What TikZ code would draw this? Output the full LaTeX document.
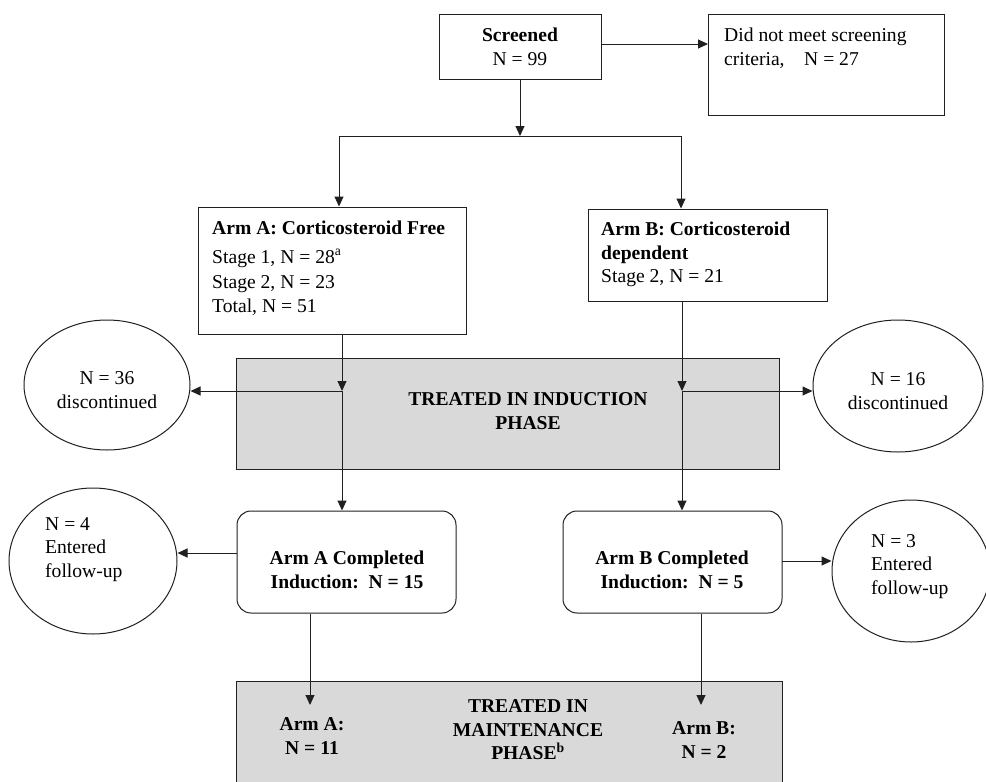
\documentclass[tikz,border=0pt]{standalone}
\usepackage{fontspec}
\setmainfont{Liberation Serif}
\usetikzlibrary{arrows.meta,shapes.geometric}
\definecolor{lc}{HTML}{202020}
\definecolor{gfill}{HTML}{D9D9D9}
\begin{document}
\begin{tikzpicture}[x=1pt,y=-1pt,
  every node/.style={font=\fontsize{19.6}{23.5}\selectfont},
  box/.style={draw=lc,line width=1pt,rectangle,inner sep=0pt},
  rbox/.style={box,rounded corners=14pt},
  gbox/.style={box,fill=gfill},
  oval/.style={draw=lc,line width=1pt,ellipse,inner sep=0pt},
  txt/.style={inner sep=0pt,align=left},
  ctxt/.style={inner sep=0pt,align=center},
  btxt/.style={ctxt,font=\fontsize{19.6}{23.5}\selectfont\bfseries},
  arr/.style={draw=lc,line width=1pt,-{Triangle[length=10pt,width=9pt]}},
  ln/.style={draw=lc,line width=1pt}]
\useasboundingbox (0,0) rectangle (986,782);
\begin{scope}
\clip (0,0) rectangle (986,782);
% boxes
\node[box,minimum width=162pt,minimum height=65pt,align=center] (scr) at (520,47)
  {\textbf{Screened}\\N = 99};
\node[box,minimum width=236pt,minimum height=101pt] (dnm) at (826.5,65) {};
\node[txt,anchor=north west] (dnmt) at (724,28) {Did not meet screening\\criteria,\quad N = 27};
\node[box,minimum width=268pt,minimum height=127pt] (armA) at (332,270.5) {};
\node[txt,anchor=north west] (armAt) at (212,221) {\textbf{Arm A: Corticosteroid Free}\\[5pt]Stage 1, N = 28\textsuperscript{a}\\[2pt]Stage 2, N = 23\\Total, N = 51};
\node[box,minimum width=239pt,minimum height=92pt] (armB) at (707.5,255) {};
\node[txt,anchor=north west] (armBt) at (601,222) {\textbf{Arm B: Corticosteroid}\\\textbf{dependent}\\Stage 2, N = 21};
\node[gbox,minimum width=543pt,minimum height=111pt] (ind) at (507.5,413.5) {};
\node[btxt] (indt) at (528,411) {TREATED IN INDUCTION\\PHASE};
\node[oval,minimum width=166pt,minimum height=130pt] (L1) at (107,385) {};
\node[ctxt] (L1t) at (107,390) {N = 36\\discontinued};
\node[oval,minimum width=170pt,minimum height=132pt] (R1) at (898,386) {};
\node[ctxt] (R1t) at (898,391) {N = 16\\discontinued};
\node[rbox,minimum width=219pt,minimum height=102pt] (compA) at (346.5,562) {};
\node[btxt] (compAt) at (347,570) {Arm A Completed\\Induction:\enspace N = 15};
\node[rbox,minimum width=219pt,minimum height=102pt] (compB) at (672.5,562) {};
\node[btxt] (compBt) at (672,570) {Arm B Completed\\Induction:\enspace N = 5};
\node[oval,minimum width=168pt,minimum height=146pt] (L2) at (93,561) {};
\node[txt,anchor=north west] (L2t) at (45,517) {N = 4\\Entered\\follow-up};
\node[oval,minimum width=158pt,minimum height=142pt] (R2) at (911,571) {};
\node[txt,anchor=north west] (R2t) at (871,534) {N = 3\\Entered\\follow-up};
\node[gbox,minimum width=546pt,minimum height=130pt] (mnt) at (509,746) {};
\node[btxt] (mntt) at (528,730) {TREATED IN\\MAINTENANCE\\PHASE\textsuperscript{b}};
\node[btxt] (mA) at (312,736) {Arm A:\\N = 11};
\node[btxt] (mB) at (704,740) {Arm B:\\N = 2};
% connectors
\draw[arr] (scr.east |- 0,44) -- (dnm.west |- 0,44);
\coordinate (split) at (520,136);
\draw[arr] (scr.south) -- (split);
\coordinate (ja) at (339,136);
\coordinate (jb) at (681,136);
\draw[ln] (ja) -- (jb);
\draw[arr] (ja) -- (ja |- armA.north);
\draw[arr] (jb) -- (jb |- armB.north);
\coordinate (ma) at (342,391);
\coordinate (mb) at (682,391);
\draw[arr] (ma |- armA.south) -- (ma);
\draw[arr] (ma) -- (ma |- compA.north);
\draw[arr] (ma) -- (L1.east |- ma);
\draw[arr] (mb |- armB.south) -- (mb);
\draw[arr] (mb) -- (mb |- compB.north);
\draw[arr] (mb) -- (R1.west |- mb);
\coordinate (fa) at (237,553);
\draw[arr] (fa) -- (L2.east |- fa);
\coordinate (fb) at (782,561);
\draw[arr] (fb) -- (R2.west |- fb);
\coordinate (ta) at (310,705);
\coordinate (tb) at (701,705);
\draw[arr] (ta |- compA.south) -- (ta);
\draw[arr] (tb |- compB.south) -- (tb);
\end{scope}
\end{tikzpicture}
\end{document}
